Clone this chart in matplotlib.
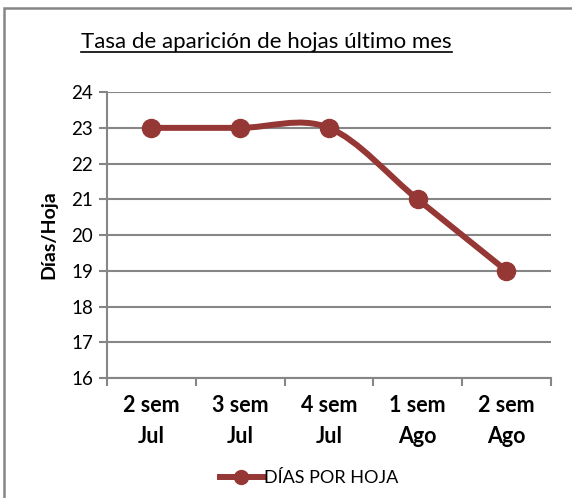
import matplotlib
matplotlib.use("Agg")
import matplotlib.pyplot as plt
from matplotlib.path import Path
from matplotlib.patches import PathPatch, Rectangle
from matplotlib.lines import Line2D
import numpy as np

plt.rcParams['font.family'] = ['Lato', 'DejaVu Sans']

# datos
semanas = ['2 sem\nJul', '3 sem\nJul', '4 sem\nJul', '1 sem\nAgo', '2 sem\nAgo']
dias_por_hoja = [23, 23, 23, 21, 19]
serie = 'DÍAS POR HOJA'

color_linea = '#953735'
gris = '#868686'


def curva_suave(x, y):
    # spline tipo Excel (Catmull-Rom convertido a Bezier)
    pts = np.column_stack([x, y]).astype(float)
    ext = np.vstack([pts[0], pts, pts[-1]])
    verts = [tuple(pts[0])]
    codes = [Path.MOVETO]
    for i in range(1, len(ext) - 2):
        p0, p1, p2, p3 = ext[i - 1], ext[i], ext[i + 1], ext[i + 2]
        c1 = p1 + (p2 - p0) / 6
        c2 = p2 - (p3 - p1) / 6
        verts += [tuple(c1), tuple(c2), tuple(p2)]
        codes += [Path.CURVE4] * 3
    return Path(verts, codes)


fig = plt.figure(figsize=(5.72, 4.98), dpi=100)
ax = fig.add_axes([0.187, 0.241, 0.776, 0.574])

x = np.arange(len(semanas))
ax.add_patch(PathPatch(curva_suave(x, dias_por_hoja), facecolor='none',
                       edgecolor=color_linea, lw=4.3, capstyle='round', zorder=3))
ax.plot(x, dias_por_hoja, 'o', color=color_linea, ms=13, zorder=4)

ax.set_xlim(-0.5, len(semanas) - 0.5)
ax.set_ylim(16, 24)
ax.set_yticks(range(16, 25))
ax.grid(axis='y', color=gris, lw=1.5)
ax.set_axisbelow(True)

ax.set_xticks(np.arange(-0.5, len(semanas)), labels=[''] * (len(semanas) + 1))
ax.set_xticks(x, labels=semanas, minor=True)
ax.tick_params(axis='x', which='major', length=6, width=1.5, color=gris, direction='out')
ax.tick_params(axis='x', which='minor', length=0, pad=12, labelsize=15.5)
for t in ax.get_xticklabels(minor=True):
    t.set_fontweight('bold')
    t.set_linespacing(1.6)
ax.tick_params(axis='y', length=6, width=1.5, color=gris, labelsize=13.5, pad=4)

for s in ['top', 'right']:
    ax.spines[s].set_visible(False)
for s in ['left', 'bottom']:
    ax.spines[s].set_color(gris)
    ax.spines[s].set_linewidth(1.5)

ax.set_ylabel('Días/Hoja', fontsize=14, fontweight='bold', labelpad=10)

titulo = fig.text(0.466, 0.903, 'Tasa de aparición de hojas último mes',
                  ha='center', va='baseline', fontsize=16)

h = Line2D([], [], color=color_linea, lw=4.3, marker='o', ms=10)
fig.legend([h], [serie], loc='center', bbox_to_anchor=(0.54, 0.04),
           frameon=False, fontsize=13, handlelength=2.4, handletextpad=0.05)

# borde del grafico
fig.patches.append(Rectangle((4 / 572, -0.1), 1.2, 1.1 - 8 / 498, transform=fig.transFigure,
                             fill=False, edgecolor=gris, lw=1.8))

# subrayado del titulo
fig.canvas.draw()
bb = titulo.get_window_extent().transformed(fig.transFigure.inverted())
ys = 0.903 - 4 / 498
fig.add_artist(Line2D([bb.x0, bb.x1], [ys, ys], transform=fig.transFigure,
                      color='black', lw=1.2))

fig.savefig('out.png', dpi=100)
